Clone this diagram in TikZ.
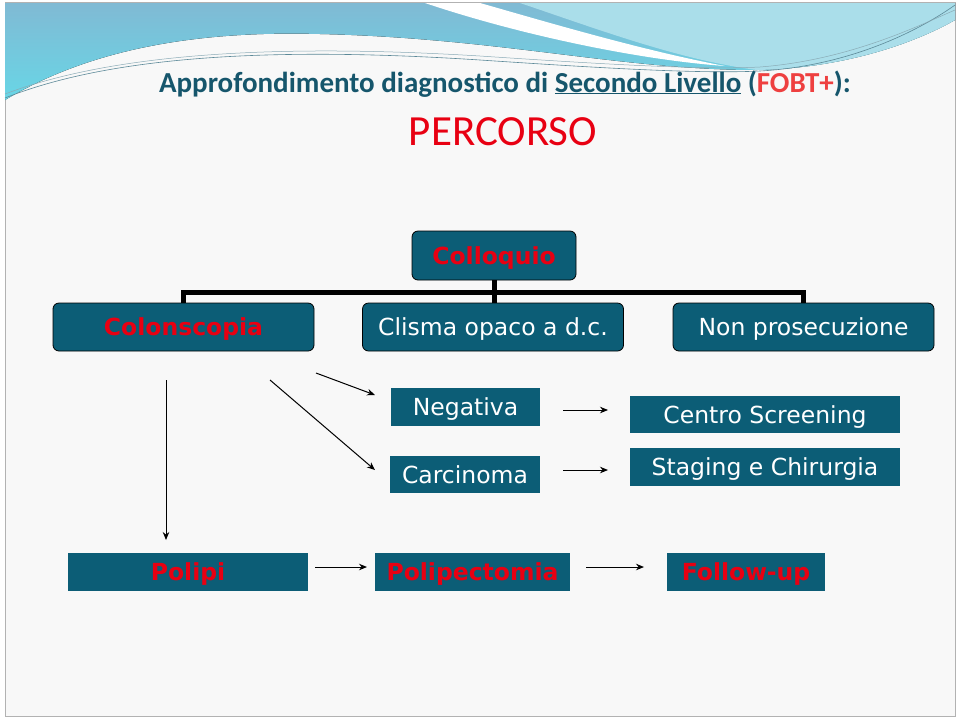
\documentclass[tikz,border=0pt]{standalone}
\usepackage{fontspec}
\setmainfont{DejaVu Sans}
\newfontfamily\titlefont{Carlito}
\usetikzlibrary{arrows.meta, positioning}

\definecolor{boxteal}{RGB}{12,93,118}
\definecolor{boxred}{RGB}{232,0,18}
\definecolor{titleteal}{RGB}{22,86,108}
\definecolor{fobtred}{RGB}{238,64,64}
\definecolor{slidebg}{RGB}{248,248,248}
\definecolor{wavedark}{RGB}{128,186,212}
\definecolor{wavecyan}{RGB}{104,214,230}
\definecolor{wavelight}{RGB}{170,222,234}

\begin{document}
\begin{tikzpicture}[
  x=1pt, y=-1pt,
  rbox/.style={draw, line width=0.8pt, rounded corners=6pt, fill=boxteal, inner sep=0pt,
    minimum width=261pt, minimum height=48pt, align=center, text height=18pt, text depth=1pt,
    font=\fontsize{23.5}{28}\selectfont},
  sbox/.style={fill=boxteal, inner sep=0pt, minimum height=38pt, align=center, text=white,
    text height=18pt, text depth=1pt, font=\fontsize{23.5}{28}\selectfont},
  lowbox/.style={sbox, text=boxred, font=\bfseries\fontsize{23.5}{28}\selectfont},
  bus/.style={line width=5pt},
  arrow/.style={line width=1pt,-{Stealth[length=8pt,width=6.5pt]}}
]
  \useasboundingbox (0,0) rectangle (960,716);
  % slide background and top wave
  \fill[white] (0,0) rectangle (960,716);
  \draw[gray!60, fill=slidebg] (5,2) rectangle (955,716);
  \fill[top color=wavedark, bottom color=wavecyan]
    (5,3) -- (955,3) -- (955,20) .. controls (920,40) and (850,68) .. (757,70)
    .. controls (620,70) and (500,38) .. (320,34) .. controls (180,30) and (80,55) .. (5,100) -- cycle;
  \fill[wavelight] (520,3) -- (955,3) -- (955,20) .. controls (920,40) and (850,68) .. (757,70)
    .. controls (680,60) and (600,30) .. (520,3) -- cycle;
  \fill[white] (425,3) .. controls (520,35) and (640,60) .. (725,66)
    .. controls (640,50) and (540,20) .. (480,3) -- cycle;
  \draw[titleteal!70, line width=0.6pt] (5,98) .. controls (100,60) and (250,45) .. (480,60)
    .. controls (600,68) and (700,74) .. (760,71) .. controls (850,66) and (920,30) .. (955,5);
  \draw[titleteal!50, line width=0.5pt] (5,94) .. controls (100,58) and (250,42) .. (480,56)
    .. controls (600,64) and (700,70) .. (760,67) .. controls (850,60) and (920,25) .. (955,10);

  % titles
  \node (title) [text=titleteal, font=\titlefont\bfseries\fontsize{29}{34}\selectfont, anchor=base]
    at (505,92) {Approfondimento diagnostico di \underline{Secondo Livello} (\textcolor{fobtred}{FOBT+}):};
  \node (percorso) [text=boxred, font=\titlefont\fontsize{43}{50}\selectfont, anchor=base]
    at (503,145) {PERCORSO};

  % tree
  \node (colloquio) [rbox, minimum width=164pt, minimum height=49pt, text=boxred, font=\bfseries\fontsize{23.5}{28}\selectfont]
    at (494,255.5) {Colloquio};
  \node (colonscopia) [rbox, text=boxred, font=\bfseries\fontsize{23.5}{28}\selectfont] at (183.5,327) {Colonscopia};
  \node (clisma) [rbox, text=white] at (493,327) {Clisma opaco a d.c.};
  \node (nonpros) [rbox, text=white] at (803.5,327) {Non prosecuzione};
  \coordinate (junction) at (494,292);

  \draw [bus] (colloquio) -- (junction);
  \draw [bus] (colonscopia.north) |- (junction) -| (nonpros.north);
  \draw [bus] (junction) -- (junction |- clisma.north);

  % outcomes
  \node (negativa) [sbox, minimum width=149pt] at (465.5,407) {Negativa};
  \node (carcinoma) [sbox, minimum width=150pt, minimum height=37pt] at (465,474.5) {Carcinoma};
  \node (centro) [sbox, minimum width=270pt, minimum height=37pt] at (765,414.5) {Centro Screening};
  \node (staging) [sbox, minimum width=270pt] at (765,467) {Staging e Chirurgia};

  \node (polipi) [lowbox, minimum width=240pt] at (188,572) {Polipi};
  \node (polipectomia) [lowbox, minimum width=195pt] at (472.5,572) {Polipectomia};
  \node (followup) [lowbox, minimum width=158pt] at (746,572) {Follow-up};

  % free arrows
  \coordinate (v1) at (166,380);
  \coordinate (v2) at (166,540);
  \coordinate (d1) at (270,380);
  \coordinate (d2) at (375,470);
  \coordinate (n1) at (316,373);
  \coordinate (n2) at (375,395);
  \coordinate (h1) at (563,410);
  \coordinate (h2) at (608,410);
  \coordinate (k1) at (563,470);
  \coordinate (k2) at (608,470);
  \coordinate (p1) at (315,567);
  \coordinate (p2) at (367,567);
  \coordinate (f1) at (586,567);
  \coordinate (f2) at (644,567);

  \draw [arrow] (v1) -- (v2);
  \draw [arrow] (d1) -- (d2);
  \draw [arrow] (n1) -- (n2);
  \draw [arrow] (h1) -- (h2);
  \draw [arrow] (k1) -- (k2);
  \draw [arrow] (p1) -- (p2);
  \draw [arrow] (f1) -- (f2);
\end{tikzpicture}
\end{document}
